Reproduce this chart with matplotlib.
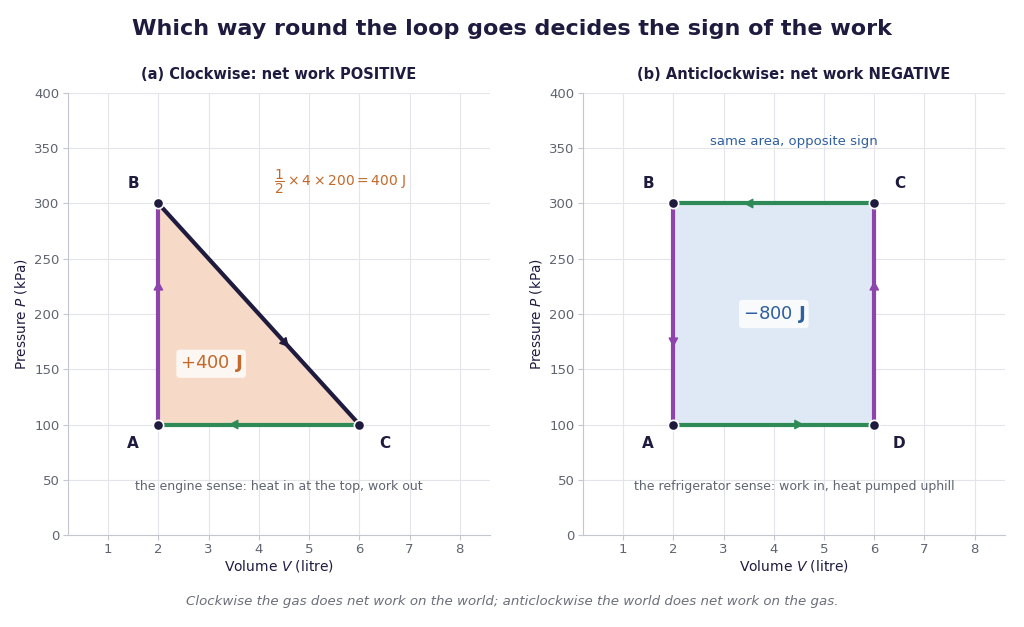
import matplotlib
matplotlib.use("Agg")
import matplotlib.pyplot as plt

# data
tri_v = [2, 2, 6]          # A, B, C (litre)
tri_p = [100, 300, 100]    # kPa
tri_names = ["A", "B", "C"]
rect_v = [2, 2, 6, 6]      # A, B, C, D
rect_p = [100, 300, 300, 100]
rect_names = ["A", "B", "C", "D"]
work_a = 400
work_b = -800

NAVY = "#1e1b3f"
PURPLE = "#8e44ad"
GREEN = "#2e8b57"
ORANGE = "#c4692a"
PEACH = "#f6d9c6"
LBLUE = "#dfe9f5"
BLUE = "#2f5f9f"
GREY = "#5f6470"

fig = plt.figure(figsize=(10.24, 6.27), dpi=100)
ax1 = fig.add_axes([0.0664, 0.1467, 0.412, 0.705])
ax2 = fig.add_axes([0.5693, 0.1467, 0.412, 0.705])


def style(ax, title):
    ax.set_xlim(0.2, 8.6)
    ax.set_ylim(0, 400)
    ax.set_xticks(range(1, 9))
    ax.set_yticks(range(0, 401, 50))
    ax.grid(True, color="#e3e5ea", lw=0.8)
    ax.set_axisbelow(True)
    for s in ["top", "right"]:
        ax.spines[s].set_visible(False)
    for s in ["left", "bottom"]:
        ax.spines[s].set_color("#c4c7cf")
    ax.tick_params(colors="#c4c7cf", labelcolor=GREY, labelsize=9.5,
                   length=3.5, pad=2.5)
    ax.set_xlabel("Volume $V$ (litre)", fontsize=10, color=NAVY, labelpad=1.5)
    ax.set_ylabel("Pressure $P$ (kPa)", fontsize=9.8, color=NAVY, labelpad=4)
    ax.set_title(title, fontsize=10.5, fontweight="bold", color=NAVY, pad=10)


def leg(ax, v0, p0, v1, p1, color, frac=0.65):
    ax.plot([v0, v1], [p0, p1], color=color, lw=3, solid_capstyle="butt", zorder=3)
    vm = v0 + (v1 - v0) * frac
    pm = p0 + (p1 - p0) * frac
    ax.annotate("", xy=(vm, pm), xytext=(v0, p0),
                arrowprops=dict(arrowstyle="-|>,head_length=0.55,head_width=0.3",
                                color=color, lw=1, mutation_scale=10,
                                shrinkA=0, shrinkB=0),
                zorder=4)


# (a) clockwise triangle
style(ax1, "(a) Clockwise: net work POSITIVE")
ax1.fill(tri_v, tri_p, color=PEACH, zorder=1)
leg(ax1, tri_v[0], tri_p[0], tri_v[1], tri_p[1], PURPLE)
leg(ax1, tri_v[1], tri_p[1], tri_v[2], tri_p[2], NAVY)
leg(ax1, tri_v[2], tri_p[2], tri_v[0], tri_p[0], GREEN)
ax1.scatter(tri_v, tri_p, s=55, color=NAVY, edgecolor="white", lw=1.2, zorder=6)
offs_a = {"A": (-0.5, -17), "B": (-0.5, 18), "C": (0.5, -17)}
for n, v, p in zip(tri_names, tri_v, tri_p):
    dv, dp = offs_a[n]
    ax1.text(v + dv, p + dp, n, fontsize=11, fontweight="bold", color=NAVY,
             ha="center", va="center")
ax1.text(4.3, 320, r"$\dfrac{1}{2}\times 4\times 200 = 400\ \mathrm{J}$",
         fontsize=10, color=ORANGE, ha="left", va="center")
ax1.text(3.05, 155, r"$+%d\ \mathbf{J}$" % work_a, fontsize=13, color=ORANGE,
         ha="center", va="center",
         bbox=dict(boxstyle="round,pad=0.2", fc="white", ec="none", alpha=0.8))
ax1.text(0.5, 0.11, "the engine sense: heat in at the top, work out",
         transform=ax1.transAxes, fontsize=9, color=GREY, ha="center", va="center")

# (b) anticlockwise rectangle: A -> D -> C -> B -> A
style(ax2, "(b) Anticlockwise: net work NEGATIVE")
ax2.fill(rect_v, rect_p, color=LBLUE, zorder=1)
leg(ax2, rect_v[0], rect_p[0], rect_v[3], rect_p[3], GREEN)
leg(ax2, rect_v[3], rect_p[3], rect_v[2], rect_p[2], PURPLE)
leg(ax2, rect_v[2], rect_p[2], rect_v[1], rect_p[1], GREEN)
leg(ax2, rect_v[1], rect_p[1], rect_v[0], rect_p[0], PURPLE)
ax2.scatter(rect_v, rect_p, s=55, color=NAVY, edgecolor="white", lw=1.2, zorder=6)
offs_b = {"A": (-0.5, -17), "B": (-0.5, 18), "C": (0.5, 18), "D": (0.5, -17)}
for n, v, p in zip(rect_names, rect_v, rect_p):
    dv, dp = offs_b[n]
    ax2.text(v + dv, p + dp, n, fontsize=11, fontweight="bold", color=NAVY,
             ha="center", va="center")
ax2.text(4.0, 200, r"$-%d\ \mathbf{J}$" % abs(work_b), fontsize=13, color=BLUE,
         ha="center", va="center",
         bbox=dict(boxstyle="round,pad=0.2", fc="white", ec="none", alpha=0.8))
ax2.text(4.4, 356, "same area, opposite sign",
         fontsize=9.5, color=BLUE, ha="center", va="center")
ax2.text(0.5, 0.11, "the refrigerator sense: work in, heat pumped uphill",
         transform=ax2.transAxes, fontsize=9, color=GREY, ha="center", va="center")

fig.text(0.5, 0.953, "Which way round the loop goes decides the sign of the work",
         fontsize=16, fontweight="bold", color=NAVY, ha="center", va="center")
fig.text(0.5, 0.041, "Clockwise the gas does net work on the world; anticlockwise the world does net work on the gas.",
         fontsize=9.6, style="italic", color="#6b6f7a", ha="center", va="center")

fig.savefig("out.png", dpi=100, facecolor="white")
